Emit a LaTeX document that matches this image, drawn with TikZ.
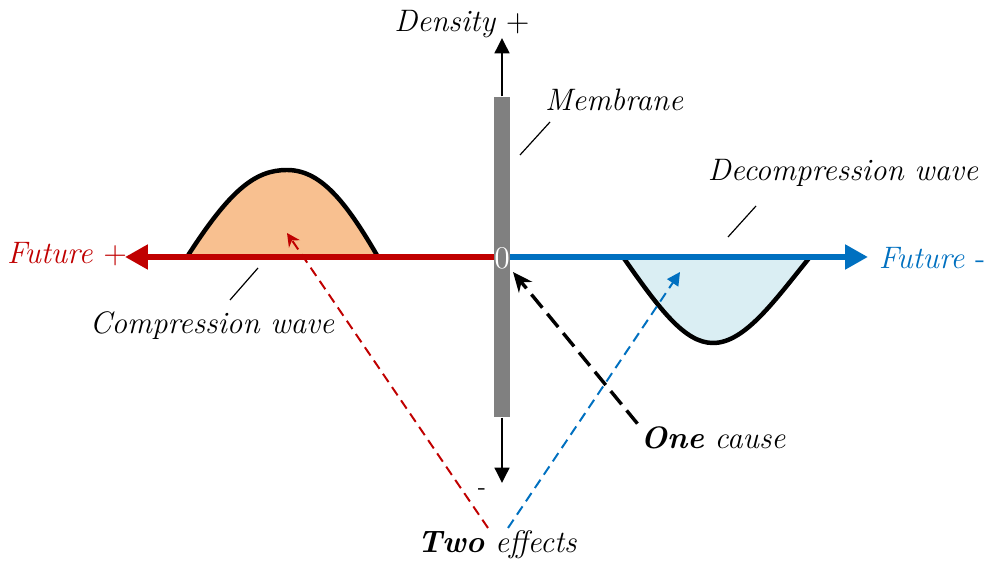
\documentclass[tikz,border=0pt]{standalone}
\usepackage{fontspec}
\usetikzlibrary{arrows.meta}
\definecolor{futred}{HTML}{C00000}
\definecolor{futblue}{HTML}{0070C0}
\definecolor{peach}{HTML}{F8C090}
\definecolor{icy}{HTML}{DAEEF3}
\definecolor{memgray}{HTML}{808080}
\tikzset{
    lbl/.style={font=\fontsize{11.8}{14}\selectfont\rmfamily\itshape, inner sep=1pt},
    leader/.style={line width=0.45pt},
    wave/.style={line width=1.7pt, line join=round},
    axisline/.style={line width=2.3pt, -{Triangle[length=8.7pt,width=9pt]}},
    vaxis/.style={line width=1.1pt, -{Triangle[length=5.8pt,width=5.5pt]}},
}
\begin{document}
\begin{tikzpicture}[x=0.38pt,y=-0.38pt]
    \useasboundingbox (0,0) rectangle (989,562);
    % axes and waves
	\coordinate (origin) at (502,257);
	\coordinate (ltip) at (125,257);
	\coordinate (rtip) at (868,257);
	\fill[peach] (187,257) .. controls (230,190) and (255,170) .. (287,170) .. controls (320,170) and (345,200) .. (378,257) -- cycle;
	\draw[wave] (187,257) .. controls (230,190) and (255,170) .. (287,170) .. controls (320,170) and (345,200) .. (378,257);
	\fill[icy] (623,257) .. controls (660,310) and (685,343) .. (713,343) .. controls (745,343) and (775,300) .. (810,257) -- cycle;
	\draw[wave] (623,257) .. controls (660,310) and (685,343) .. (713,343) .. controls (745,343) and (775,300) .. (810,257);
	\draw[axisline, futred] (origin) -- (ltip);
	\draw[axisline, futblue] (origin) -- (rtip);
    % membrane and density axis
	\node[fill=memgray, minimum width=6.1pt, minimum height=121.6pt, inner sep=0pt] (bar) at (origin) {};
	\coordinate (vtop) at (502,38);
	\coordinate (vbot) at (502,483);
	\draw[vaxis] (bar.north) -- (vtop);
	\draw[vaxis] (bar.south) -- (vbot);
	\node[font=\fontsize{12}{14}\selectfont\rmfamily, text=white, inner sep=1pt] (zero) at (502,258) {0};
    % labels
	\node[lbl] (dens) at (462,24) {Density \upshape+};
	\node[lbl, inner sep=0pt] (minus) at (482,492) {\upshape\fontsize{9}{10}\selectfont -};
	\node[lbl] (memb) at (614,100) {Membrane};
	\node[lbl] (decomp) at (843,173) {Decompression wave};
	\node[lbl] (comp) at (212,326) {Compression wave};
	\node[lbl, text=futred] (fplus) at (67,254) {Future \upshape+};
	\node[lbl, text=futblue] (fminus) at (932,258) {Future \upshape-};
	\node[lbl] (one) at (713,438) {\bfseries One\mdseries\ cause};
	\node[lbl] (two) at (497,545) {\bfseries Two\mdseries\ effects};
    % leader lines
	\draw[leader] (230,300) -- (258,268);
	\draw[leader] (520,155) -- (550,122);
	\draw[leader] (728,237) -- (756,206);
    % cause and effects
	\coordinate (hit) at (513,272);
	\coordinate (redend) at (287,233);
	\coordinate (blueend) at (680,272);
	\draw[line width=1.3pt, dash pattern=on 6.5pt off 3pt, -{Stealth[length=7.5pt,width=6.5pt]}] (one.north west) -- (hit);
	\draw[futred, line width=0.75pt, dash pattern=on 3.8pt off 2.3pt, -{Stealth[length=5pt,width=5pt]}] (488,528) -- (redend);
	\draw[futblue, line width=0.75pt, dash pattern=on 3.8pt off 2.3pt, -{Triangle[length=5pt,width=5pt]}] (508,528) -- (blueend);
\end{tikzpicture}
\end{document}
